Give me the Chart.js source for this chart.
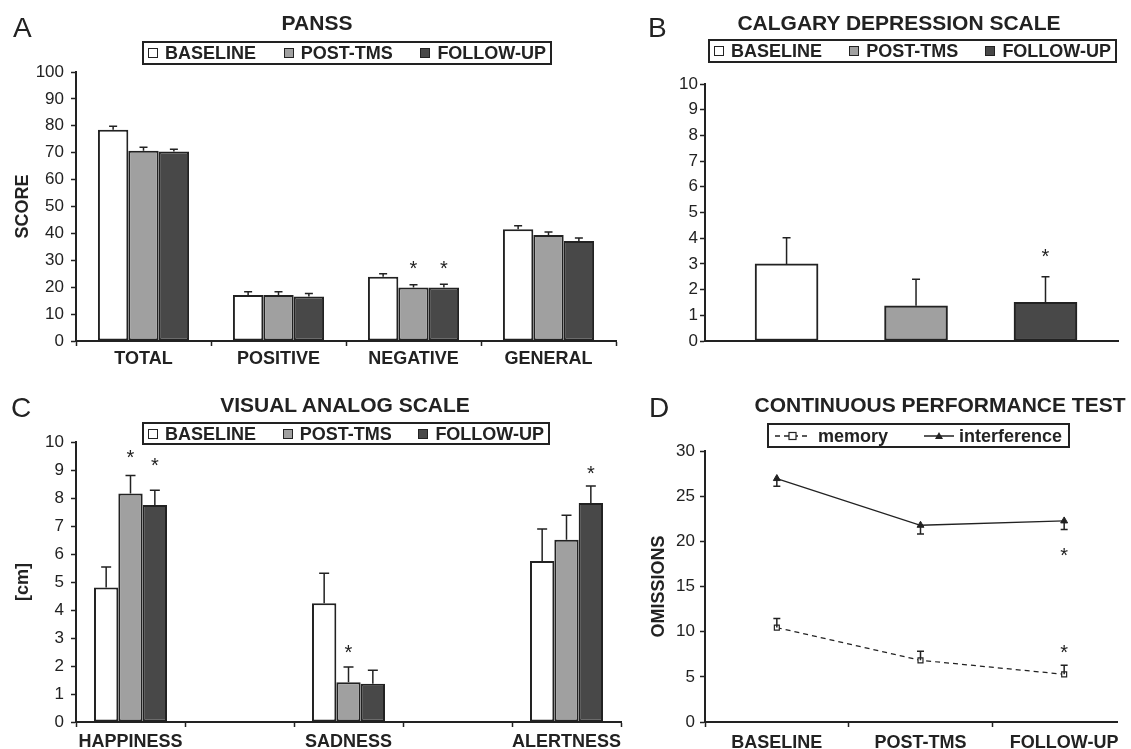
<!DOCTYPE html>
<html>
<head>
<meta charset="utf-8">
<script src="https://cdn.jsdelivr.net/npm/chart.js@4.4.1/dist/chart.umd.min.js"></script>
<style>
  html, body { margin:0; padding:0; background:#fff; overflow:hidden; }
  body { width:1131px; height:749px; position:relative; font-family:'Liberation Sans', Arial, sans-serif; color:#222; }
  canvas { position:absolute; left:0; top:0; }
  .txt { position:absolute; line-height:1; white-space:nowrap; }
  .title { font-weight:bold; font-size:21px; transform:translateX(-50%); }
  .letter { font-size:28px; }
  .legend { position:absolute; box-sizing:border-box; border:2px solid #222; display:flex; align-items:center;
            justify-content:space-between; padding:0 4px; font-weight:bold; font-size:18px; line-height:1; white-space:nowrap; }
  .legend span { display:flex; align-items:center; }
  .sq { display:inline-block; width:10px; height:10px; box-sizing:border-box; border:1px solid #222; margin-right:7px; }
  #clipD { position:absolute; left:0; top:0; width:1118px; height:749px; overflow:hidden; }
</style>
</head>
<body>
<canvas id="cA" width="1131" height="749"></canvas>
<canvas id="cB" width="1131" height="749"></canvas>
<canvas id="cC" width="1131" height="780"></canvas>
<div id="clipD"><canvas id="cD" width="1160" height="780"></canvas></div>

<div class="txt letter" style="left:13px;top:14px">A</div>
<div class="txt letter" style="left:648px;top:14px">B</div>
<div class="txt letter" style="left:11px;top:394px">C</div>
<div class="txt letter" style="left:649px;top:394px">D</div>

<div class="txt title" style="left:317px;top:12px">PANSS</div>
<div class="txt title" style="left:899px;top:12px">CALGARY DEPRESSION SCALE</div>
<div class="txt title" style="left:345px;top:394px">VISUAL ANALOG SCALE</div>
<div class="txt title" style="left:940px;top:394px">CONTINUOUS PERFORMANCE TEST</div>

<div class="legend" id="legA" style="left:142px;top:41px;width:410px;height:24px"></div>
<div class="legend" id="legB" style="left:708px;top:39px;width:409px;height:24px"></div>
<div class="legend" id="legC" style="left:142px;top:422px;width:408px;height:23px"></div>
<div class="legend" id="legD" style="left:767px;top:423px;width:303px;height:25px;justify-content:flex-start"></div>

<script>
// ── series shared by the bar panels ──
const phases = ['BASELINE', 'POST-TMS', 'FOLLOW-UP'];
const phaseColors = ['#ffffff', '#a0a0a0', '#484848'];

// ── A: PANSS ──
const pansCats = ['TOTAL', 'POSITIVE', 'NEGATIVE', 'GENERAL'];
const pansBase = [78.5, 17.1, 23.9, 41.5];
const pansPost = [70.7, 17.1, 19.9, 39.4];
const pansFollow = [70.4, 16.5, 19.9, 37.2];
const pansBaseErr = [1.3, 1.2, 1.1, 1.3];
const pansPostErr = [1.3, 1.2, 1.0, 1.1];
const pansFollowErr = [0.9, 1.2, 1.2, 1.1];
const pansPostStar = [null, null, 28.9, null];
const pansFollowStar = [null, null, 28.9, null];
const pansTicks = [0, 100, 10];

// ── B: Calgary depression scale ──
const cdssVals = [3.0, 1.37, 1.5];
const cdssErr = [1.02, 1.03, 1.0];
const cdssStar = [null, null, 3.5];
const cdssTicks = [0, 10, 1];

// ── C: visual analog scale ──
const vasCats = ['HAPPINESS', '', 'SADNESS', '', 'ALERTNESS'];
const vasBase = [4.8, null, 4.24, null, 5.75];
const vasPost = [8.16, null, 1.42, null, 6.51];
const vasFollow = [7.75, null, 1.37, null, 7.82];
const vasBaseErr = [0.74, null, 1.07, null, 1.14];
const vasPostErr = [0.64, null, 0.54, null, 0.87];
const vasFollowErr = [0.53, null, 0.48, null, 0.61];
const vasPostStar = [9.64, null, 2.68, null, null];
const vasFollowStar = [9.35, null, null, null, 9.05];
const vasTicks = [0, 10, 1];

// ── D: continuous performance test ──
const cptCats = ['BASELINE', 'POST-TMS', 'FOLLOW-UP'];
const cptMemory = [10.45, 6.83, 5.28];
const cptInterf = [26.95, 21.78, 22.26];
const cptMemoryErr = [1.0, 1.0, 1.0];
const cptInterfErr = [0.85, 0.98, 0.95];
const cptMemoryStar = [null, null, 8.24];
const cptInterfStar = [null, null, 19.0];
const cptTicks = [0, 30, 5];

const INK = '#222';
const FONT = "'Liberation Sans', Arial, sans-serif";

// error bars (up / down) and significance stars, drawn through the chart's own scales
const marks = {
  id: 'marks',
  afterDatasetsDraw(chart, args, o) {
    const ctx = chart.ctx, y = chart.scales.y;
    chart.data.datasets.forEach((ds, i) => {
      const meta = chart.getDatasetMeta(i);
      meta.data.forEach((el, j) => {
        const v = meta.controller.getParsed(j).y;
        if (v == null || isNaN(v)) return;
        ctx.save();
        ctx.strokeStyle = INK; ctx.lineWidth = 1.5;
        [[ds.errUp, 1], [ds.errDown, -1]].forEach(([arr, s]) => {
          const e = arr ? arr[j] : null;
          if (e == null) return;
          const y0 = y.getPixelForValue(v), y1 = y.getPixelForValue(v + s * e);
          ctx.beginPath();
          ctx.moveTo(el.x, y0); ctx.lineTo(el.x, y1);
          ctx.moveTo(el.x - o.cap / 2, y1); ctx.lineTo(el.x + o.cap / 2, y1);
          ctx.stroke();
        });
        const st = ds.stars ? ds.stars[j] : null;
        if (st != null) {
          ctx.fillStyle = INK;
          ctx.font = '20px ' + FONT;
          ctx.textAlign = 'center'; ctx.textBaseline = 'alphabetic';
          ctx.fillText('*', el.x, y.getPixelForValue(st) + 11.7);
        }
        ctx.restore();
      });
    });
  }
};

function yScale(t, w, pad, title) {
  return {
    min: t[0], max: t[1],
    ticks: { stepSize: t[2], padding: pad, color: INK, font: { family: FONT, size: 17 } },
    grid: { drawOnChartArea: false, tickLength: 5, color: INK, tickWidth: 1.5 },
    border: { color: INK, width: 2 },
    title: title ? { display: true, text: title, color: INK, font: { family: FONT, size: 18, weight: 'bold' } } : { display: false },
    afterFit: s => { s.width = w; },
  };
}

function xScale(pad) {
  return {
    offset: true,
    ticks: { padding: pad, color: INK, autoSkip: false, maxRotation: 0, font: { family: FONT, size: 18, weight: 'bold' } },
    grid: { offset: true, drawOnChartArea: false, tickLength: 5, color: INK, tickWidth: 1.5 },
    border: { color: INK, width: 2 },
    afterFit: s => { s.height = 40; },
  };
}

const common = {
  responsive: false, animation: false, events: [],
  plugins: { legend: { display: false }, tooltip: { enabled: false } },
};

function barSet(label, i, data, err, stars) {
  return { label, data, errUp: err, stars, backgroundColor: phaseColors[i], borderColor: INK, borderWidth: 2, borderSkipped: false };
}

function legendSquares(id) {
  document.getElementById(id).innerHTML = phases.map((p, i) =>
    `<span><i class="sq" style="background:${phaseColors[i]}"></i>${p}</span>`).join('');
}
['legA', 'legB', 'legC'].forEach(legendSquares);

document.getElementById('legD').innerHTML = `
  <span style="margin-left:1px"><svg width="38" height="12"><line x1="1" y1="6" x2="37" y2="6" stroke="${INK}" stroke-width="1.3" stroke-dasharray="5,4"/><rect x="15" y="2.5" width="7" height="7" fill="#fff" stroke="${INK}" stroke-width="1.2"/></svg></span>
  <span style="margin-left:6px">memory</span>
  <span style="margin-left:36px"><svg width="30" height="12"><line x1="0" y1="6" x2="30" y2="6" stroke="${INK}" stroke-width="1.5"/><polygon points="15,2 19,9 11,9" fill="${INK}"/></svg></span>
  <span style="margin-left:5px">interference</span>`;

// A
new Chart(document.getElementById('cA'), {
  type: 'bar',
  data: {
    labels: pansCats,
    datasets: [
      barSet(phases[0], 0, pansBase, pansBaseErr, null),
      barSet(phases[1], 1, pansPost, pansPostErr, pansPostStar),
      barSet(phases[2], 2, pansFollow, pansFollowErr, pansFollowStar),
    ],
  },
  options: {
    ...common,
    layout: { padding: { left: 8, right: 515, top: 72, bottom: 368 } },
    datasets: { bar: { categoryPercentage: 0.675, barPercentage: 1 } },
    plugins: { ...common.plugins, marks: { cap: 8 } },
    scales: { x: xScale(2), y: yScale(pansTicks, 68, 7, 'SCORE') },
  },
  plugins: [marks],
});

// B
new Chart(document.getElementById('cB'), {
  type: 'bar',
  data: {
    datasets: [{
      label: 'CDSS',
      data: cdssVals.map((v, i) => ({ x: i, y: v })),
      errUp: cdssErr, stars: cdssStar,
      backgroundColor: phaseColors, borderColor: INK, borderWidth: 2, borderSkipped: false,
      barThickness: 63,
    }],
  },
  options: {
    ...common,
    layout: { padding: { left: 645, right: 13, top: 84, bottom: 398 } },
    plugins: { ...common.plugins, marks: { cap: 8 } },
    scales: {
      x: {
        type: 'linear', min: -0.63, max: 2.56, offset: false,
        ticks: { display: false },
        grid: { offset: false, drawOnChartArea: false, drawTicks: false },
        border: { color: INK, width: 2 },
        afterFit: s => { s.height = 10; },
      },
      y: yScale(cdssTicks, 60, 2, null),
    },
  },
  plugins: [marks],
});

// C
new Chart(document.getElementById('cC'), {
  type: 'bar',
  data: {
    labels: vasCats,
    datasets: [
      barSet(phases[0], 0, vasBase, vasBaseErr, null),
      barSet(phases[1], 1, vasPost, vasPostErr, vasPostStar),
      barSet(phases[2], 2, vasFollow, vasFollowErr, vasFollowStar),
    ],
  },
  options: {
    ...common,
    layout: { padding: { left: 8, right: 510, top: 442, bottom: 18 } },
    datasets: { bar: { categoryPercentage: 0.67, barPercentage: 1 } },
    plugins: { ...common.plugins, marks: { cap: 10 } },
    scales: { x: xScale(4), y: yScale(vasTicks, 68, 7, '[cm]') },
  },
  plugins: [marks],
});

// D
new Chart(document.getElementById('cD'), {
  type: 'line',
  data: {
    labels: cptCats,
    datasets: [
      {
        label: 'memory', data: cptMemory, errUp: cptMemoryErr, stars: cptMemoryStar,
        borderColor: INK, borderWidth: 1.2, borderDash: [5, 4],
        pointStyle: 'rect', pointRadius: 3.5, pointBackgroundColor: '#fff', pointBorderColor: INK, pointBorderWidth: 1.2,
      },
      {
        label: 'interference', data: cptInterf, errDown: cptInterfErr, stars: cptInterfStar,
        borderColor: INK, borderWidth: 1.3,
        pointStyle: 'triangle', pointRadius: 4, pointBackgroundColor: INK, pointBorderColor: INK, pointBorderWidth: 1,
      },
    ],
  },
  options: {
    ...common,
    layout: { padding: { left: 644, right: 24, top: 451, bottom: 18 } },
    plugins: { ...common.plugins, marks: { cap: 7 } },
    scales: { x: xScale(5), y: yScale(cptTicks, 61, 5, 'OMISSIONS') },
  },
  plugins: [marks],
});
</script>
</body>
</html>
